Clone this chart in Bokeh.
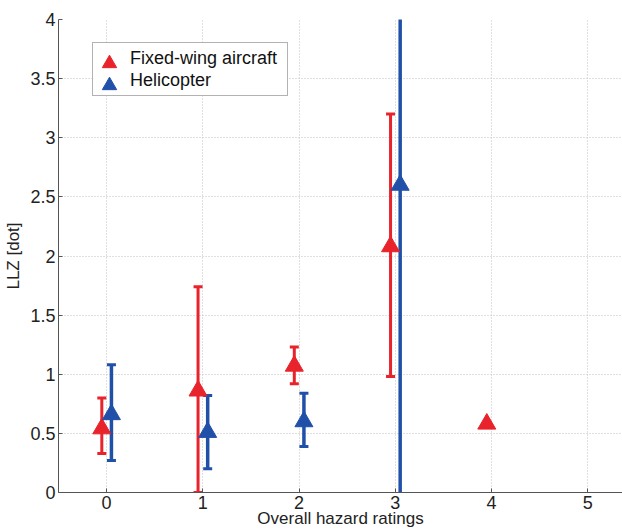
from bokeh.plotting import figure
from bokeh.models import Range1d, Legend, LegendItem, FixedTicker
from bokeh.embed import file_html
from bokeh.resources import INLINE

# ---- data ----
ratings = [0, 1, 2, 3, 4]
fw_mean = [0.54, 0.86, 1.07, 2.08, 0.58]
fw_ratings_err = [0, 1, 2, 3]
fw_low = [0.33, 0.0, 0.92, 0.98]
fw_high = [0.80, 1.74, 1.23, 3.20]

heli_ratings = [0, 1, 2, 3]
heli_mean = [0.66, 0.51, 0.60, 2.60]
heli_low = [0.27, 0.20, 0.39, -0.10]
heli_high = [1.08, 0.82, 0.84, 4.10]

x_ticks = [0, 1, 2, 3, 4, 5]
y_ticks = [0, 0.5, 1, 1.5, 2, 2.5, 3, 3.5, 4]
y_tick_labels = ["0", "0.5", "1", "1.5", "2", "2.5", "3", "3.5", "4"]
series_names = ["Fixed-wing aircraft", "Helicopter"]

RED = "#e8232b"
BLUE = "#2150a8"
OFF = 0.05
FONT = "Liberation Sans"

p = figure(width=622, height=532, x_range=Range1d(-0.5, 5.36), y_range=Range1d(0, 4),
           output_backend="svg", toolbar_location=None,
           min_border_left=58, min_border_right=0, min_border_top=19, min_border_bottom=40)
p.outline_line_color = None
p.background_fill_color = "white"
p.border_fill_color = "white"

def shift(xs, d):
    return [x + d for x in xs]

# error bars
fx = shift(fw_ratings_err, -OFF)
hx = shift(heli_ratings, OFF)
p.segment(x0=fx, y0=fw_low, x1=fx, y1=fw_high, line_color=RED, line_width=3)
p.segment(x0=hx, y0=heli_low, x1=hx, y1=heli_high, line_color=BLUE, line_width=3.5)
p.scatter(x=fx + fx, y=fw_low + fw_high, marker="dash", size=9, line_color=RED, line_width=3)
p.scatter(x=hx + hx, y=heli_low + heli_high, marker="dash", size=9, line_color=BLUE, line_width=3)

r_fw = p.scatter(x=shift(ratings, -OFF), y=fw_mean, marker="triangle", size=18,
                 fill_color=RED, line_color=RED)
r_he = p.scatter(x=hx, y=heli_mean, marker="triangle", size=18,
                 fill_color=BLUE, line_color=BLUE)

# invisible renderer used only for the legend's text rows
r_dummy = p.scatter(x=[], y=[], marker="triangle", fill_alpha=0, line_alpha=0)

# axes
p.xaxis.ticker = FixedTicker(ticks=x_ticks)
p.yaxis.ticker = FixedTicker(ticks=y_ticks)
p.yaxis.major_label_overrides = {t: l for t, l in zip(y_ticks, y_tick_labels)}
p.xaxis.axis_label = "Overall hazard ratings"
p.yaxis.axis_label = "LLZ [dot]"
for ax in (p.xaxis[0], p.yaxis[0]):
    ax.axis_line_color = "#555555"
    ax.major_tick_line_color = "#555555"
    ax.major_tick_in = 4
    ax.major_tick_out = 0
    ax.minor_tick_line_color = None
    ax.major_label_text_font = FONT
    ax.major_label_text_font_size = "18px"
    ax.major_label_text_color = "#222222"
    ax.axis_label_text_font = FONT
    ax.axis_label_text_font_size = "17px"
    ax.axis_label_text_font_style = "normal"
    ax.axis_label_text_color = "#222222"
p.xaxis.major_label_standoff = 3
p.xaxis.axis_label_standoff = -3
p.yaxis.major_label_standoff = 3
p.yaxis.axis_label_standoff = 4

for g in (p.xgrid[0], p.ygrid[0]):
    g.grid_line_color = "#c0c0c0"
    g.grid_line_dash = "1 2"
    g.grid_line_width = 1

# legend box with the labels
leg_text = Legend(items=[LegendItem(label=series_names[0], renderers=[r_dummy]),
                         LegendItem(label=series_names[1], renderers=[r_dummy])],
                  location=(34, 396))
leg_text.label_text_font = FONT
leg_text.label_text_font_size = "18px"
leg_text.label_text_color = "#111111"
leg_text.border_line_color = "#666666"
leg_text.border_line_width = 1
leg_text.padding = 4
leg_text.spacing = 0
leg_text.glyph_width = 30
leg_text.glyph_height = 22
leg_text.label_height = 22
leg_text.label_standoff = 3
leg_text.label_width = 153
leg_text.margin = 0
p.add_layout(leg_text)

# larger legend markers, drawn over the box
for rend, loc in ((r_fw, (33, 411)), (r_he, (33, 389))):
    lg = Legend(items=[LegendItem(label="", renderers=[rend])], location=loc)
    lg.glyph_width = 36
    lg.glyph_height = 36
    lg.padding = 0
    lg.margin = 0
    lg.label_width = 0
    lg.label_standoff = 0
    lg.border_line_color = None
    lg.background_fill_alpha = 0
    p.add_layout(lg)

open("out.html", "w").write(file_html(p, INLINE))
